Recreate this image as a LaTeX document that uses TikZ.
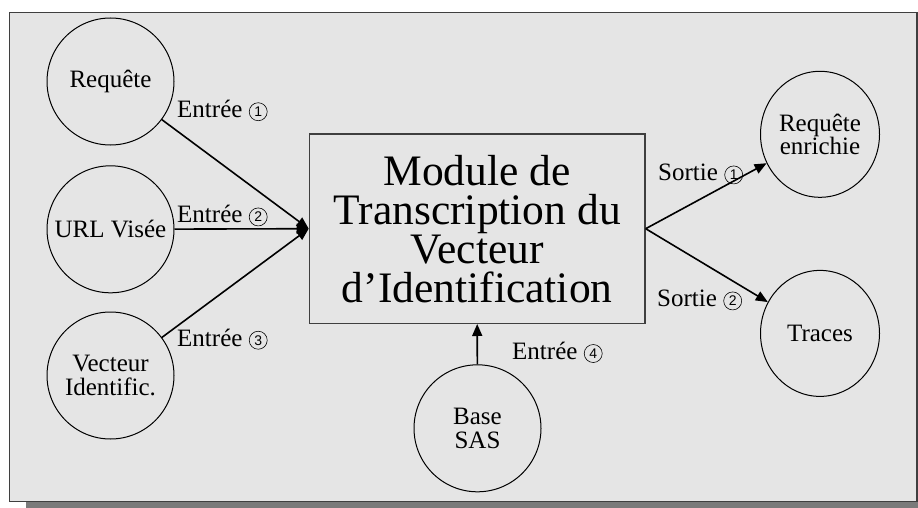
\documentclass[tikz,border=0pt]{standalone}
\usepackage{fontspec}
\setmainfont{Liberation Serif}
\setsansfont{Liberation Sans}
\usetikzlibrary{arrows.meta,shapes.geometric}
\definecolor{panel}{HTML}{E5E5E5}
\definecolor{framegray}{HTML}{3F3F3F}
\definecolor{shadowgray}{HTML}{7A7A7A}
\begin{document}
\begin{tikzpicture}[x=1pt,y=-1pt,
  every node/.style={font=\fontsize{25}{23.3}\selectfont},
  bubble/.style={circle, draw=black, line width=1pt, minimum size=127pt, inner sep=0pt, align=center},
  oval/.style={ellipse, draw=black, line width=1pt, minimum width=119pt, minimum height=126pt, inner sep=0pt, align=center},
  modulebox/.style={draw=framegray, line width=1.3pt, minimum width=335.7pt, minimum height=189.3pt,
    inner sep=0pt, align=center, font=\fontsize{43.5}{39}\selectfont},
  flow/.style={line width=1.6pt, -{Triangle[length=12pt,width=10pt]}},
  tag/.style={anchor=base west, inner sep=0pt},
  cnum/.style={circle, draw=black, line width=0.6pt, inner sep=0pt, minimum size=18pt,
    anchor=south west, font=\sffamily\fontsize{14}{14}\selectfont}]
  % page extent and panel with drop shadow
  \clip (0,0) rectangle (918,508);
  \fill[shadowgray] (26,29) rectangle (940,520);
  \draw[framegray, line width=1.5pt, fill=panel] (9.5,12.5) rectangle (917,501.5);

  % central module
  \node[modulebox] (mod) at (477.2,228.7) {Module de\\Transcription du\\Vecteur\\d’Identification};

  % inputs
  \node[bubble] (req) at (110.5,81.5) {Requête};
  \node[bubble] (url) at (110.5,229.3) {URL Visée};
  \node[bubble] (vec) at (110.5,375.5) {Vecteur\\Identific.};
  \node[bubble] (sas) at (477.5,428.3) {Base\\SAS};

  % outputs
  \node[oval] (enr) at (820,134.3) {Requête\\enrichie};
  \node[oval] (trc) at (820,333.4) {Traces};

  % connectors
  \draw[flow] (req) -- (mod.west);
  \draw[flow] (url) -- (mod.west);
  \draw[flow] (vec) -- (mod.west);
  \draw[flow] (sas) -- (mod.south);
  \draw[flow] (mod.east) -- (enr);
  \draw[flow] (mod.east) -- (trc);

  % connector labels, each followed by its circled number
  \node[tag] (l1) at (177,117.5) {Entrée};
  \node[cnum] (n1) at ([xshift=9pt,yshift=-0.8pt]l1.base east) {1};
  \node[tag] (l2) at (177,222.7) {Entrée};
  \node[cnum] (n2) at ([xshift=9pt,yshift=-0.8pt]l2.base east) {2};
  \node[tag] (l3) at (177,346) {Entrée};
  \node[cnum] (n3) at ([xshift=9pt,yshift=-0.8pt]l3.base east) {3};
  \node[tag] (l4) at (512,359.3) {Entrée};
  \node[cnum] (n4) at ([xshift=9pt,yshift=-0.8pt]l4.base east) {4};
  \node[tag] (s1) at (658,180.7) {Sortie};
  \node[cnum] (m1) at ([xshift=9pt,yshift=-0.8pt]s1.base east) {1};
  \node[tag] (s2) at (657,306.7) {Sortie};
  \node[cnum] (m2) at ([xshift=9pt,yshift=-0.8pt]s2.base east) {2};
\end{tikzpicture}
\end{document}
